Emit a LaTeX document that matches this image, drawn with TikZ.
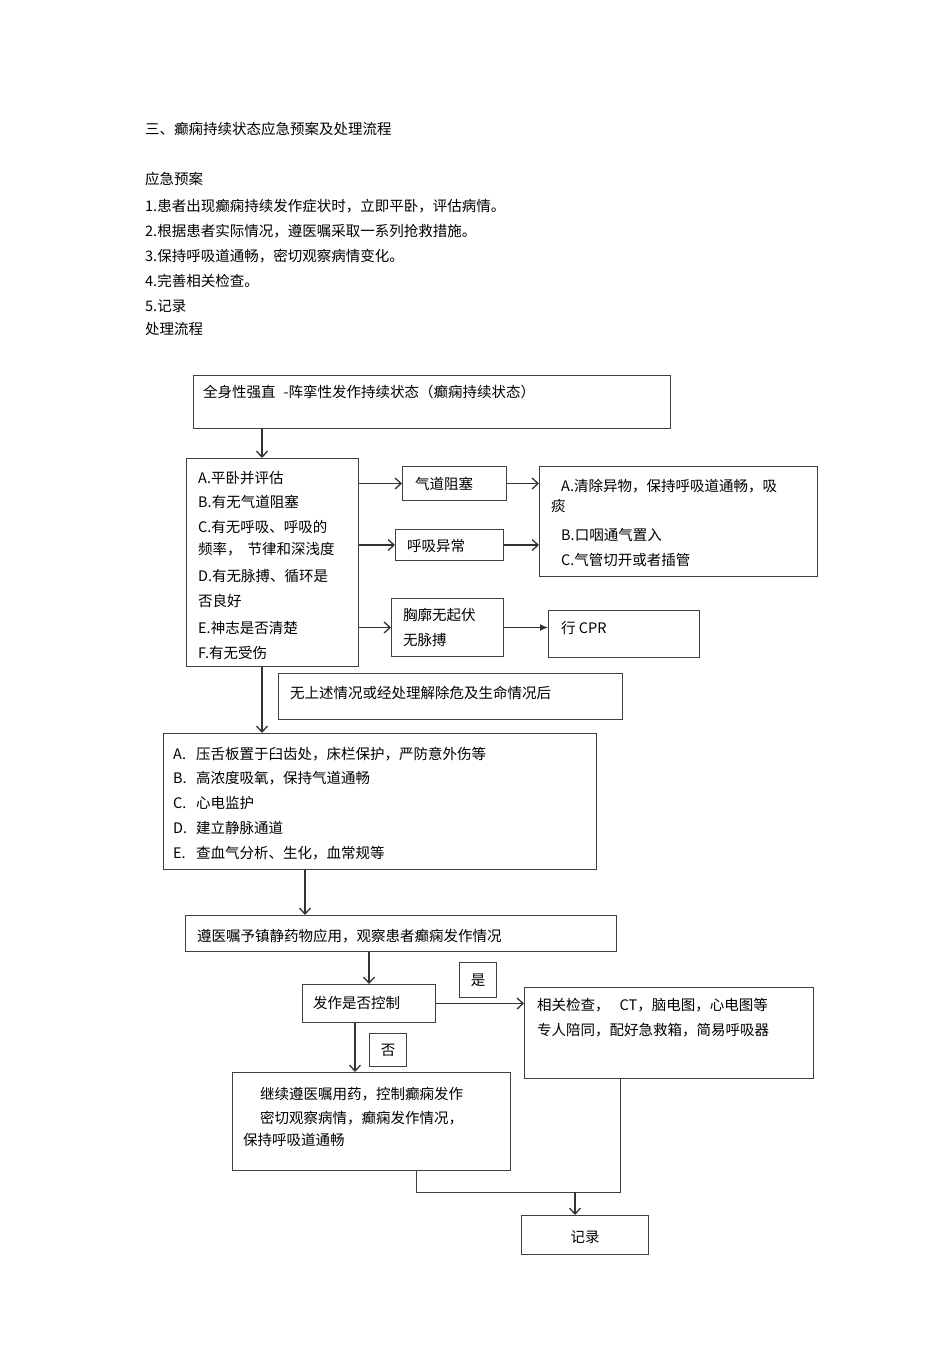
\documentclass[tikz,border=0pt]{standalone}
\usepackage{fontspec}
\newfontfamily\cjk{Noto Sans CJK SC}
\usetikzlibrary{arrows.meta}
\newcommand\Lines[1]{\begin{tabular}[t]{@{}l@{}}#1\end{tabular}}

\begin{document}
\begin{tikzpicture}
[
x=1pt, y=-1pt,
every node/.style={font=\cjk\fontsize{14.5}{24.9}\selectfont, text=black},
Box/.style={rectangle, draw=black!75, line width=1pt, inner sep=0pt, anchor=north west},
Txt/.style={anchor=base west, inner sep=0pt},
OpenArrow/.style={-{Straight Barb[length=6pt,width=11pt]}, line width=1.3pt, draw=black!80},
FillArrow/.style={-{Latex[length=8pt,width=7pt]}, line width=1.3pt, draw=black!80},
Link/.style={line width=1pt, draw=black!75},
]

\useasboundingbox[fill=white] (0,0) rectangle (950,1345);

% header text
\node[Txt] (title) at (145,134) {三、癫痫持续状态应急预案及处理流程};
\node[Txt] (plan) at (145,184) {\Lines{应急预案\\[3pt]
1.患者出现癫痫持续发作症状时，立即平卧，评估病情。\\
2.根据患者实际情况，遵医嘱采取一系列抢救措施。\\
3.保持呼吸道通畅，密切观察病情变化。\\
4.完善相关检查。\\
5.记录\\[-2pt]
处理流程}};

% boxes
\node[Box, minimum width=477pt, minimum height=53pt] (state) at (193,375) {};
\node[Box, minimum width=172pt, minimum height=208pt] (assess) at (186,458) {};
\node[Box, minimum width=104pt, minimum height=34pt] (qidao) at (402,466) {};
\node[Box, minimum width=108pt, minimum height=31pt] (huxi) at (395,529) {};
\node[Box, minimum width=112pt, minimum height=58pt] (xiongkuo) at (391,598) {};
\node[Box, minimum width=278pt, minimum height=110pt] (airway) at (539,466) {};
\node[Box, minimum width=151pt, minimum height=47pt] (cpr) at (548,610) {};
\node[Box, minimum width=344pt, minimum height=46pt] (note) at (278,673) {};
\node[Box, minimum width=433pt, minimum height=136pt] (care) at (163,733) {};
\node[Box, minimum width=431pt, minimum height=36pt] (drug) at (185,915) {};
\node[Box, minimum width=133pt, minimum height=38pt] (ctrl) at (302,984) {};
\node[Box, minimum width=37pt, minimum height=35pt] (yes) at (459,962) {};
\node[Box, minimum width=37pt, minimum height=33pt] (no) at (369,1033) {};
\node[Box, minimum width=289pt, minimum height=91pt] (exam) at (524,987) {};
\node[Box, minimum width=278pt, minimum height=98pt] (cont) at (232,1072) {};
\node[Box, minimum width=127pt, minimum height=39pt] (record) at (521,1215) {};

% box texts
\node[Txt] (stateT) at (203,397) {全身性强直\hspace{8pt}-阵挛性发作持续状态（癫痫持续状态）};
\node[Txt] (assessT) at (198,483) {\Lines{A.平卧并评估\\
B.有无气道阻塞\\
C.有无呼吸、呼吸的\\[-3pt]
频率，\hspace{6pt}节律和深浅度\\[2pt]
D.有无脉搏、循环是\\
否良好\\[2pt]
E.神志是否清楚\\
F.有无受伤}};
\node[Txt] (qidaoT) at (415,489) {气道阻塞};
\node[Txt] (huxiT) at (407,551) {呼吸异常};
\node[Txt] (xiongkuoT) at (403,620) {\Lines{胸廓无起伏\\[1pt]无脉搏}};
\node[Txt] (airwayT) at (551,491) {\Lines{\hspace*{10pt}A.清除异物，保持呼吸道通畅，吸\\[-4pt]
痰\\[4pt]
\hspace*{10pt}B.口咽通气置入\\
\hspace*{10pt}C.气管切开或者插管}};
\node[Txt] (cprT) at (561,633) {行 CPR};
\node[Txt] (noteT) at (290,698) {无上述情况或经处理解除危及生命情况后};
\node[Txt] (careT) at (173,759) {\Lines{\makebox[23pt][l]{A.}压舌板置于臼齿处，床栏保护，严防意外伤等\\
\makebox[23pt][l]{B.}高浓度吸氧，保持气道通畅\\
\makebox[23pt][l]{C.}心电监护\\
\makebox[23pt][l]{D.}建立静脉通道\\
\makebox[23pt][l]{E.}查血气分析、生化，血常规等}};
\node[Txt] (drugT) at (197,941) {遵医嘱予镇静药物应用，观察患者癫痫发作情况};
\node[Txt] (ctrlT) at (313,1008) {发作是否控制};
\node (yesT) at (yes.center) {是};
\node (noT) at (no.center) {否};
\node[Txt] (examT) at (537,1010) {\Lines{相关检查，\hspace{10pt}CT，脑电图，心电图等\\[1pt]
专人陪同，配好急救箱，简易呼吸器}};
\node[Txt] (contT) at (243,1099) {\Lines{\hspace*{17pt}继续遵医嘱用药，控制癫痫发作\\
\hspace*{17pt}密切观察病情，癫痫发作情况，\\[-3pt]
保持呼吸道通畅}};
\node (recordT) at ([yshift=-2pt]record.center) {记录};

% connectors
\draw[OpenArrow] ([xshift=69pt]state.south west) -- ([xshift=76pt]assess.north west);
\draw[OpenArrow] (assess.east |- qidao.west) -- (qidao.west);
\draw[OpenArrow] (assess.east |- huxi.west) -- (huxi.west);
\draw[OpenArrow] (assess.east |- xiongkuo.west) -- (xiongkuo.west);
\draw[OpenArrow] (qidao.east) -- (airway.west |- qidao.east);
\draw[OpenArrow] (huxi.east) -- (airway.west |- huxi.east);
\draw[FillArrow] (xiongkuo.east) -- (cpr.west |- xiongkuo.east);

\draw[OpenArrow] ([xshift=76pt]assess.south west) -- ([xshift=99pt]care.north west);
\draw[OpenArrow] ([xshift=142pt]care.south west) -- ([xshift=120pt]drug.north west);
\draw[OpenArrow] (drug.south -| ctrl.north) -- (ctrl.north);
\draw[OpenArrow] (ctrl.east) -- (exam.west |- ctrl.east);
\draw[OpenArrow] ([xshift=53pt]ctrl.south west) -- ([xshift=123pt]cont.north west);

\coordinate (join) at (575,1192);
\draw[Link] ([xshift=184pt]cont.south west) |- (join) -| ([xshift=96pt]exam.south west);
\draw[OpenArrow] (join) -- (join |- record.north);

\end{tikzpicture}
\end{document}
